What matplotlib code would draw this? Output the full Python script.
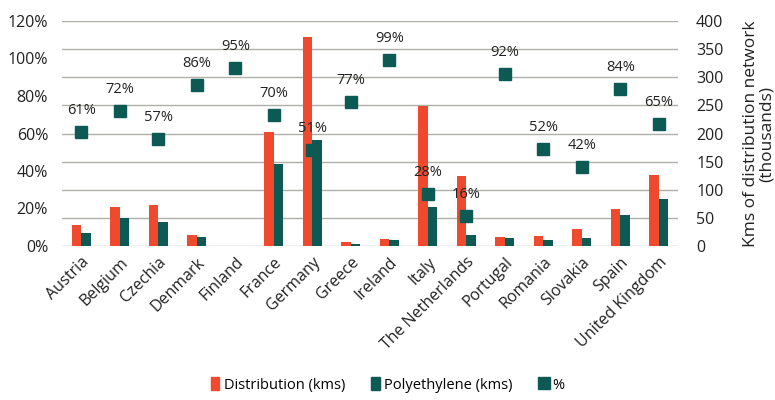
import matplotlib
matplotlib.use("Agg")
import matplotlib.pyplot as plt
import numpy as np
from matplotlib.patches import Patch
from matplotlib.lines import Line2D

countries = ["Austria", "Belgium", "Czechia", "Denmark", "Finland", "France",
             "Germany", "Greece", "Ireland", "Italy", "The Netherlands",
             "Portugal", "Romania", "Slovakia", "Spain", "United Kingdom"]
distribution = [37, 70, 73, 19.5, 0, 203, 372, 6.5, 12, 249, 124, 16.5, 18, 31, 65, 127]
polyethylene = [22.5, 49, 43, 16.5, 0, 145, 188, 3.5, 11, 70, 19.5, 15, 10.5, 15, 55, 83]
pct = [61, 72, 57, 86, 95, 70, 51, 77, 99, 28, 16, 92, 52, 42, 84, 65]
pct_ticks = [0, 20, 40, 60, 80, 100, 120]
km_ticks = [0, 50, 100, 150, 200, 250, 300, 350, 400]

RED = "#f04a2e"
TEAL = "#0d5a55"
BG = "#eeebe3"

plt.rcParams['font.family'] = ['Open Sans', 'DejaVu Sans']

fig = plt.figure(figsize=(7.75, 4.0), dpi=100)
fig.subplots_adjust(left=62/775, right=678/775, top=1-21/400, bottom=1-246/400)
ax = fig.add_subplot(111)
ax2 = ax.twinx()

# bars on ax2 placed behind ax
ax2.set_zorder(ax.get_zorder() - 1)
ax.patch.set_visible(False)
ax2.set_facecolor(BG)

x = np.arange(len(countries))
w = 0.25
ax2.bar(x - w/2, distribution, width=w, color=RED, zorder=3)
ax2.bar(x + w/2, polyethylene, width=w, color=TEAL, zorder=3)
ax2.set_ylim(0, 400)
ax2.set_yticks(km_ticks)
ax2.set_yticklabels([str(t) for t in km_ticks], fontsize=11.5, color="#222222")
ax2.grid(axis='y', color="#b0aea8", linewidth=1, zorder=0)
ax2.set_axisbelow(True)
ax2.set_ylabel("Kms of distribution network\n(thousands)", fontsize=12.5, color="#222222",
               labelpad=14, linespacing=1.0)

ax.plot(x, pct, linestyle='none', marker='s', markersize=9, color=TEAL, zorder=5)
for xi, p in zip(x, pct):
    ax.annotate(f"{p}%", (xi, p), xytext=(0, 10), textcoords='offset points',
                ha='center', va='bottom', fontsize=10.5, color="#222222", zorder=6)
ax.set_ylim(0, 120)
ax.set_yticks(pct_ticks)
ax.set_yticklabels([f"{t}%" for t in pct_ticks], fontsize=11.5, color="#222222")
ax.set_xlim(-0.5, len(countries) - 0.5)
ax.set_xticks(x)
ax.set_xticklabels(countries, rotation=45, ha='right', rotation_mode='anchor',
                   fontsize=11.5, color="#222222")

for a in (ax, ax2):
    for s in a.spines.values():
        s.set_visible(False)
    a.tick_params(length=0)
ax.tick_params(axis='x', pad=6)
ax.tick_params(axis='y', pad=10)
ax2.tick_params(axis='y', pad=13)

handles = [Patch(color=RED, label="Distribution (kms)"),
           Patch(color=TEAL, label="Polyethylene (kms)"),
           Line2D([], [], linestyle='none', marker='s', markersize=8, color=TEAL, label="%")]
fig.legend(handles=handles, loc='center', bbox_to_anchor=(0.5, 1 - 385/400), ncol=3,
           frameon=False, fontsize=10.5, handlelength=0.6, handleheight=0.9,
           handletextpad=0.3, columnspacing=1.8)

fig.savefig("out.png", dpi=100, facecolor="white")
